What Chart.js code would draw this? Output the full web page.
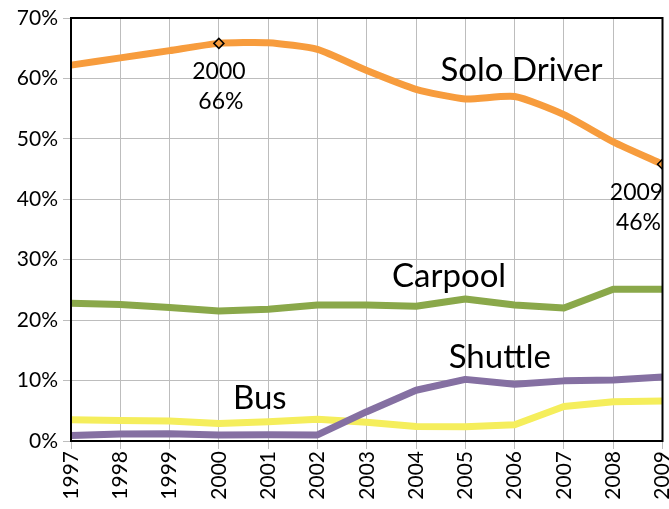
<!DOCTYPE html>
<html>
<head>
<meta charset="utf-8">
<script src="https://cdn.jsdelivr.net/npm/chart.js@4/dist/chart.umd.min.js"></script>
<style>
html,body{margin:0;padding:0;background:#fff;}
#wrap{width:669px;height:509px;position:relative;}
</style>
</head>
<body>
<div id="wrap"><canvas id="c" width="669" height="509"></canvas></div>
<script>
const years = ['1997','1998','1999','2000','2001','2002','2003','2004','2005','2006','2007','2008','2009'];
const soloDriver = [62.2, 63.4, 64.6, 65.8, 65.9, 64.8, 61.3, 58.2, 56.6, 57.0, 54.0, 49.5, 45.8];
const carpool    = [22.8, 22.6, 22.1, 21.5, 21.8, 22.5, 22.5, 22.3, 23.5, 22.5, 22.0, 25.1, 25.1];
const shuttle    = [0.9, 1.15, 1.2, 1.0, 1.05, 1.0, 4.85, 8.4, 10.2, 9.4, 9.95, 10.1, 10.6];
const bus        = [3.5, 3.4, 3.3, 2.9, 3.2, 3.6, 3.1, 2.4, 2.35, 2.7, 5.7, 6.5, 6.6];
const yTicks     = [0, 10, 20, 30, 40, 50, 60, 70];
const seriesNames = ['Solo Driver', 'Carpool', 'Shuttle', 'Bus'];
const highlightIdx = [3, 12];

const FONT = 'Lato, "Open Sans", sans-serif';
const colors = {solo:'#F79C3D', carpool:'#8AA84A', shuttle:'#8570A2', bus:'#F5EE5C'};

// series name anchors in data coordinates (category index, percent)
const nameAnchors = [
  {name: seriesNames[0], xi: 9.14, v: 61.4},
  {name: seriesNames[1], xi: 7.67, v: 27.2},
  {name: seriesNames[2], xi: 8.70, v: 13.9},
  {name: seriesNames[3], xi: 3.83, v: 7.0}
];

const frameAndLabels = {
  id: 'frameAndLabels',
  afterDatasetsDraw(chart) {
    const {ctx, chartArea: a, scales: {x, y}} = chart;
    ctx.save();
    ctx.strokeStyle = '#000';
    ctx.lineWidth = 2;
    ctx.strokeRect(a.left, a.top, a.right - a.left, a.bottom - a.top);
    ctx.fillStyle = '#000';
    ctx.textAlign = 'center';
    ctx.textBaseline = 'middle';
    ctx.font = '33px ' + FONT;
    nameAnchors.forEach(n => {
      ctx.fillText(n.name, x.getPixelForValue(n.xi), y.getPixelForValue(n.v));
    });
    ctx.font = '23px ' + FONT;
    highlightIdx.forEach((i, k) => {
      const px = x.getPixelForValue(i);
      const py = y.getPixelForValue(soloDriver[i]);
      const dx = k === 0 ? 0 : -26;
      ctx.fillText(years[i], px + dx, py + 28);
      ctx.fillText(Math.round(soloDriver[i]) + '%', px + dx + 2, py + 58);
    });
    ctx.restore();
  }
};

const ds = (label, data, color, extra) => Object.assign({
  label, data, borderColor: color, backgroundColor: color,
  borderWidth: 7, pointRadius: 0, tension: 0, borderJoinStyle: 'round', borderCapStyle: 'butt',
  clip: {left: 5, top: 8, right: 0, bottom: 5}
}, extra || {});

new Chart(document.getElementById('c'), {
  type: 'line',
  data: {
    labels: years,
    datasets: [
      ds(seriesNames[0], soloDriver, colors.solo, {
        tension: 0.2,
        pointRadius: soloDriver.map((_, i) => highlightIdx.includes(i) ? 5 : 0),
        pointStyle: 'rectRot',
        pointBorderColor: '#000',
        pointBackgroundColor: colors.solo,
        pointBorderWidth: 1.5
      }),
      ds(seriesNames[1], carpool, colors.carpool),
      ds(seriesNames[2], shuttle, colors.shuttle),
      ds(seriesNames[3], bus, colors.bus)
    ]
  },
  options: {
    responsive: false,
    animation: false,
    layout: {padding: {top: 18, right: 2, left: 0, bottom: 0}},
    plugins: {legend: {display: false}, tooltip: {enabled: false}},
    scales: {
      x: {
        offset: false,
        grid: {color: '#BDBDBD', lineWidth: 1, tickLength: 8, drawOnChartArea: true},
        border: {color: '#000', width: 2},
        ticks: {
          color: '#000', font: {family: FONT, size: 21},
          minRotation: 90, maxRotation: 90, padding: 2, autoSkip: false
        },
        afterFit(s) { s.height = 68; s.paddingLeft = 0; s.paddingRight = 0; }
      },
      y: {
        min: 0, max: 70,
        afterBuildTicks(s) { s.ticks = yTicks.map(v => ({value: v})); },
        grid: {color: '#BDBDBD', lineWidth: 1, tickLength: 8},
        border: {color: '#000', width: 2},
        ticks: {
          color: '#000', font: {family: FONT, size: 21}, padding: 5,
          callback: v => v + '%'
        },
        afterFit(s) { s.width = 71; s.paddingTop = 0; s.paddingBottom = 0; }
      }
    }
  },
  plugins: [frameAndLabels]
});
</script>
</body>
</html>
